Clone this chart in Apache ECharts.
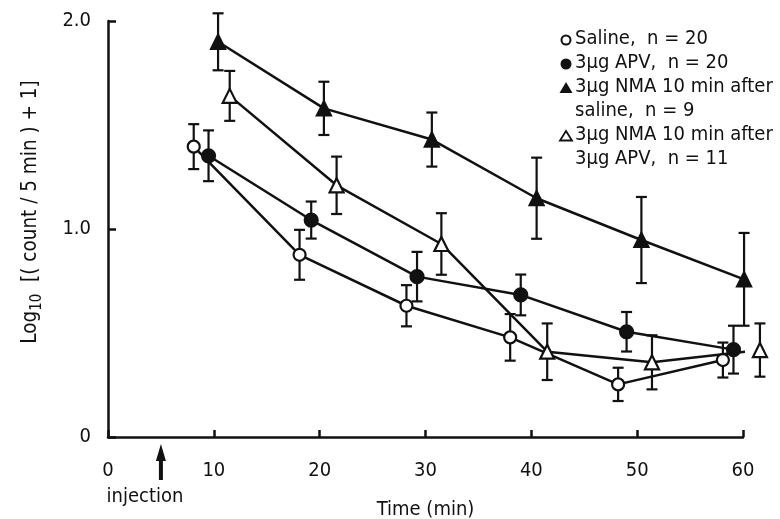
<!DOCTYPE html>
<html>
<head>
<meta charset="utf-8">
<script src="https://cdn.jsdelivr.net/npm/echarts@6/dist/echarts.min.js"></script>
<style>
html,body{margin:0;padding:0;background:#fff;}
#chart{width:780px;height:519px;}
</style>
</head>
<body>
<div id="chart"></div>
<script>
// ---- data ----
const xTicks = [0, 10, 20, 30, 40, 50, 60];
const yTicks = [0, 1, 2];

const salineX   = [8.1, 18.1, 28.2, 38.0, 48.2, 58.1];
const salineY   = [1.396, 0.876, 0.631, 0.479, 0.253, 0.37];
const salineErr = [0.108, 0.12, 0.099, 0.112, 0.08, 0.084];

const apvX   = [9.5, 19.2, 29.2, 39.0, 49.0, 59.1];
const apvY   = [1.352, 1.043, 0.771, 0.683, 0.506, 0.42];
const apvErr = [0.122, 0.089, 0.119, 0.098, 0.095, 0.115];

const nmaSalX   = [10.4, 20.4, 30.6, 40.5, 50.4, 60.1];
const nmaSalY   = [1.90, 1.58, 1.43, 1.148, 0.947, 0.758];
const nmaSalErr = [0.137, 0.128, 0.13, 0.195, 0.207, 0.223];

const nmaApvX   = [11.5, 21.6, 31.5, 41.5, 51.4, 61.6];
const nmaApvY   = [1.64, 1.21, 0.928, 0.41, 0.359, 0.418];
const nmaApvErr = [0.12, 0.138, 0.148, 0.136, 0.13, 0.128];

const injectionTime = 5;

const FONT = "'DejaVu Sans Condensed','DejaVu Sans',sans-serif";
const FS = 20;
const INK = '#111';

function pts(xs, ys){ return xs.map((x,i)=>[x, ys[i]]); }
function errs(xs, ys, es){ return xs.map((x,i)=>[x, ys[i]-es[i], ys[i]+es[i]]); }

function errSeries(xs, ys, es){
  return {
    type: 'custom', z: 1, clip: false, silent: true,
    data: errs(xs, ys, es),
    renderItem: function(params, api){
      const x = api.value(0);
      const lo = api.coord([x, api.value(1)]);
      const hi = api.coord([x, api.value(2)]);
      const cw = 5.5;
      const st = {stroke: INK, lineWidth: 2.2};
      return {type: 'group', children: [
        {type:'line', shape:{x1:lo[0], y1:lo[1], x2:hi[0], y2:hi[1]}, style: st},
        {type:'line', shape:{x1:hi[0]-cw, y1:hi[1], x2:hi[0]+cw, y2:hi[1]}, style: st},
        {type:'line', shape:{x1:lo[0]-cw, y1:lo[1], x2:lo[0]+cw, y2:lo[1]}, style: st}
      ]};
    }
  };
}
function lineSeries(name, xs, ys, symbol, filled, size){
  return {
    name: name, type: 'line', z: 3, clip: false, silent: true,
    data: pts(xs, ys),
    symbol: symbol, symbolSize: size, showSymbol: true,
    lineStyle: {color: INK, width: 2.5},
    itemStyle: {color: filled ? INK : '#fff', borderColor: INK, borderWidth: 2.2, opacity: 1}
  };
}

const chart = echarts.init(document.getElementById('chart'), null, {renderer: 'canvas'});

const option = {
  animation: false,
  backgroundColor: '#fff',
  grid: {left: 108, right: 37, top: 21, bottom: 82, containLabel: false, outerBoundsMode: 'none'},
  xAxis: {
    type: 'value', min: 0, max: 60, interval: 10,
    name: 'Time (min)', nameLocation: 'middle', nameGap: 63,
    nameTextStyle: {fontFamily: FONT, fontSize: FS, color: INK},
    axisLine: {lineStyle: {color: INK, width: 2.5}},
    axisTick: {inside: true, length: 7, lineStyle: {color: INK, width: 2.5}},
    axisLabel: {fontFamily: FONT, fontSize: FS, color: INK, margin: 24},
    splitLine: {show: false}
  },
  yAxis: {
    type: 'value', min: 0, max: 2, interval: 1,
    axisLine: {show: true, lineStyle: {color: INK, width: 2.5}},
    axisTick: {show: true, inside: true, length: 8, lineStyle: {color: INK, width: 2.5}},
    axisLabel: {fontFamily: FONT, fontSize: FS, color: INK, margin: 17,
      formatter: v => v === 0 ? '0' : v.toFixed(1)},
    splitLine: {show: false}
  },
  series: [
    errSeries(salineX, salineY, salineErr),
    errSeries(apvX, apvY, apvErr),
    errSeries(nmaSalX, nmaSalY, nmaSalErr),
    errSeries(nmaApvX, nmaApvY, nmaApvErr),
    lineSeries('Saline', salineX, salineY, 'circle', false, 12),
    lineSeries('APV', apvX, apvY, 'circle', true, 13),
    lineSeries('NMA after saline', nmaSalX, nmaSalY, 'triangle', true, 14),
    lineSeries('NMA after APV', nmaApvX, nmaApvY, 'triangle', false, 14)
  ]
};
chart.setOption(option);

// ---- annotations ----
const ax = chart.convertToPixel({xAxisIndex: 0}, injectionTime);
const legendLines = [
  {sym: 'oc', text: 'Saline,  n = 20', y: 39},
  {sym: 'fc', text: '3µg APV,  n = 20', y: 63},
  {sym: 'ft', text: '3µg NMA 10 min after', y: 87},
  {sym: null, text: 'saline,  n = 9', y: 111},
  {sym: 'ot', text: '3µg NMA 10 min after', y: 135},
  {sym: null, text: '3µg APV,  n = 11', y: 159}
];
const gfx = [];
const sx = 566, tx = 575;
legendLines.forEach(l => {
  gfx.push({type: 'text', x: tx, y: l.y,
    style: {text: l.text, font: FS + 'px ' + FONT, fill: INK, textAlign: 'left', textVerticalAlign: 'middle'}});
  if (l.sym === 'oc') gfx.push({type:'circle', shape:{cx:sx, cy:l.y+1, r:4.5}, style:{fill:'#fff', stroke:INK, lineWidth:2}});
  if (l.sym === 'fc') gfx.push({type:'circle', shape:{cx:sx, cy:l.y+1, r:5.5}, style:{fill:INK}});
  if (l.sym === 'ft') gfx.push({type:'polygon', shape:{points:[[sx,l.y-5],[sx-6.5,l.y+6],[sx+6.5,l.y+6]]}, style:{fill:INK}});
  if (l.sym === 'ot') gfx.push({type:'polygon', shape:{points:[[sx,l.y-4],[sx-6,l.y+5.5],[sx+6,l.y+5.5]]}, style:{fill:'#fff', stroke:INK, lineWidth:1.8}});
});
// injection arrow
gfx.push({type:'rect', shape:{x: ax-2, y: 455, width: 4, height: 25}, style:{fill: INK}});
gfx.push({type:'polygon', shape:{points:[[ax,444],[ax-5,461],[ax+5,461]]}, style:{fill: INK}});
gfx.push({type:'text', x: 145, y: 497,
  style:{text:'injection', font: FS + 'px ' + FONT, fill: INK, textAlign:'center', textVerticalAlign:'middle'}});
// y axis title (rotated, with subscript)
gfx.push({type:'text', x: 31, y: 212, rotation: Math.PI/2,
  style:{
    text: '{a|Log}{s|10}{a|  [( count / 5 min ) + 1]}',
    textAlign: 'center', textVerticalAlign: 'middle',
    rich: {
      a: {fontFamily: FONT, fontSize: 20.5, fill: INK, lineHeight: 28},
      s: {fontFamily: FONT, fontSize: 15, fill: INK, lineHeight: 15, verticalAlign: 'bottom'}
    }
  }});
chart.setOption({graphic: gfx});
</script>
</body>
</html>
